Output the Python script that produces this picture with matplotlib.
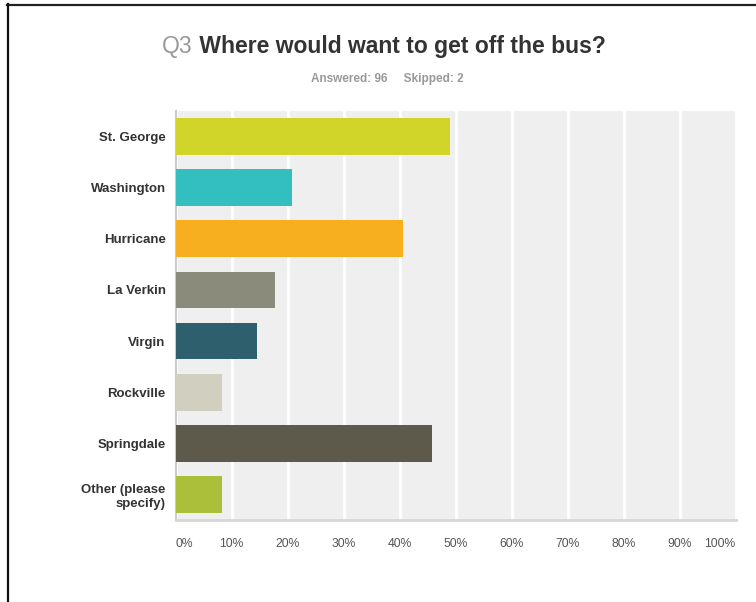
import matplotlib.pyplot as plt
from matplotlib.lines import Line2D
from matplotlib.ticker import FuncFormatter

plt.rcParams['font.family'] = ['Liberation Sans', 'DejaVu Sans']

towns = ["St. George", "Washington", "Hurricane", "La Verkin",
         "Virgin", "Rockville", "Springdale", "Other (please\nspecify)"]
percent = [48.96, 20.83, 40.63, 17.71, 14.58, 8.33, 45.83, 8.33]
colors = ["#d1d52a", "#33bec0", "#f7af1f", "#8a8b7a",
          "#2d5f6c", "#d0cfc0", "#5d5a4b", "#abbf3a"]
ticks = [0, 10, 20, 30, 40, 50, 60, 70, 80, 90, 100]

W, H = 756, 602
fig = plt.figure(figsize=(W / 100, H / 100), dpi=100)
fig.patch.set_facecolor("white")

ax = fig.add_axes([175.5 / W, 1 - 520 / H, 560 / W, 409 / H])
ax.set_facecolor("#efefef")

ypos = list(range(len(towns)))
ax.barh(ypos, percent, height=0.72, color=colors, edgecolor="none", zorder=3)

ax.set_xlim(0, 100)
ax.set_ylim(len(towns) - 0.5, -0.5)
ax.set_xticks(ticks)
ax.xaxis.set_major_formatter(FuncFormatter(lambda v, p: "%d%%" % v))
ax.grid(axis="x", color="white", linewidth=2, zorder=1)
ax.set_axisbelow(True)

ax.set_yticks(ypos)
ax.set_yticklabels(towns, fontsize=9.5, fontweight="bold", color="#333333",
                   linespacing=1.25)
ax.tick_params(axis="y", length=0, pad=7)
ax.tick_params(axis="x", length=0, pad=13, labelsize=8.7, labelcolor="#555555")
xl = ax.get_xticklabels()
xl[0].set_horizontalalignment("left")
xl[-1].set_horizontalalignment("right")

for s in ["top", "right"]:
    ax.spines[s].set_visible(False)
ax.spines["left"].set_color("#cccccc")
ax.spines["left"].set_linewidth(1.5)
ax.spines["bottom"].set_color("#d6d6d6")
ax.spines["bottom"].set_linewidth(2)

# title in two colours
t1 = fig.text(162 / W, 1 - 46 / H, "Q3", fontsize=16.5, color="#999999",
              ha="left", va="center")
ax.annotate(" Where would want to get off the bus?", xy=(1, 0), xycoords=t1,
            fontsize=16.5, fontweight="bold", color="#333333", ha="left",
            va="bottom", annotation_clip=False)
fig.text(387 / W, 1 - 79 / H, "Answered: 96     Skipped: 2", fontsize=8.5,
         color="#999999", fontweight="bold", ha="center", va="center")

# screenshot frame
fig.add_artist(Line2D([7 / W, 1], [1 - 5 / H, 1 - 5 / H], color="#222222",
                      linewidth=1.6, transform=fig.transFigure))
fig.add_artist(Line2D([8 / W, 8 / W], [1 - 4 / H, 0], color="#111111",
                      linewidth=1.6, transform=fig.transFigure))

fig.savefig("out.png", dpi=100)
